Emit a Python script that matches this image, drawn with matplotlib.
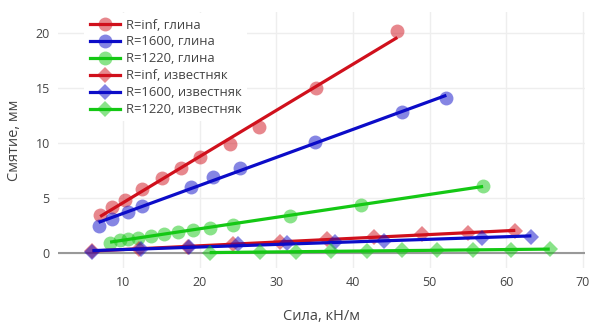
import numpy as np
import matplotlib
matplotlib.use('Agg')
import matplotlib.pyplot as plt
from matplotlib.lines import Line2D

# глина (circles)
clay_inf_x = [7.0, 8.6, 10.2, 12.5, 15.1, 17.6, 20.1, 23.9, 27.8, 35.2, 45.8]
clay_inf_y = [3.5, 4.2, 4.8, 5.8, 6.8, 7.7, 8.7, 9.9, 11.5, 15.0, 20.2]
clay_1600_x = [6.8, 8.6, 10.7, 12.5, 18.8, 21.8, 25.2, 35.1, 46.4, 52.2]
clay_1600_y = [2.5, 3.1, 3.7, 4.3, 6.0, 6.9, 7.7, 10.1, 12.8, 14.1]
clay_1220_x = [8.3, 9.6, 10.7, 11.9, 13.6, 15.3, 17.2, 19.1, 21.4, 24.4, 31.8, 41.0, 57.0]
clay_1220_y = [0.95, 1.15, 1.3, 1.4, 1.6, 1.75, 1.95, 2.1, 2.3, 2.6, 3.4, 4.4, 6.1]

# известняк (diamonds)
lime_inf_x = [6.0, 12.1, 18.5, 24.4, 30.5, 36.6, 42.8, 49.0, 55.0, 61.2]
lime_inf_y = [0.15, 0.4, 0.6, 0.85, 1.0, 1.3, 1.45, 1.7, 1.85, 2.0]
lime_1600_x = [6.0, 12.3, 18.6, 25.0, 31.4, 37.7, 44.1, 56.9, 63.3]
lime_1600_y = [0.1, 0.35, 0.55, 0.8, 0.9, 1.0, 1.1, 1.4, 1.5]
lime_1220_x = [21.3, 27.9, 32.6, 37.2, 41.8, 46.4, 51.0, 55.7, 60.7, 65.7]
lime_1220_y = [0.05, 0.1, 0.12, 0.15, 0.2, 0.25, 0.27, 0.3, 0.33, 0.35]

RED = '#d0101c'
BLUE = '#0c0cc8'
GREEN = '#14c814'

series = [
    ('R=inf, глина', clay_inf_x, clay_inf_y, RED, 'o'),
    ('R=1600, глина', clay_1600_x, clay_1600_y, BLUE, 'o'),
    ('R=1220, глина', clay_1220_x, clay_1220_y, GREEN, 'o'),
    ('R=inf, известняк', lime_inf_x, lime_inf_y, RED, 'D'),
    ('R=1600, известняк', lime_1600_x, lime_1600_y, BLUE, 'D'),
    ('R=1220, известняк', lime_1220_x, lime_1220_y, GREEN, 'D'),
]

plt.rcParams['font.family'] = ['Open Sans', 'DejaVu Sans']

fig = plt.figure(figsize=(5.9, 3.25), dpi=100)
ax = fig.add_axes([58 / 590, 1 - 268 / 325, 527 / 590, 256 / 325])

handles = []
for i, (name, xs, ys, color, marker) in enumerate(series):
    xs = np.array(xs)
    ys = np.array(ys)
    ms = 10 if marker == 'o' else 8
    ax.plot(xs, ys, linestyle='none', marker=marker, ms=ms, color=color,
            alpha=0.5, markeredgewidth=0, zorder=3 + i)
    # linear fit drawn over the points
    k, b = np.polyfit(xs, ys, 1)
    xf = np.array([xs.min(), xs.max()])
    ax.plot(xf, k * xf + b, color=color, lw=2.3, solid_capstyle='butt', zorder=3 + i)
    h_line = Line2D([], [], color=color, lw=2.3)
    h_mark = Line2D([], [], linestyle='none', marker=marker, ms=ms, color=color,
                    alpha=0.5, markeredgewidth=0)
    handles.append((h_mark, h_line))

ax.set_xlim(1.5, 70.3)
ax.set_ylim(-1.35, 21.9)
ax.set_xticks(range(10, 71, 10))
ax.set_yticks(range(0, 21, 5))

for s in ax.spines.values():
    s.set_visible(False)
ax.grid(True, color='#eeeeee', lw=1)
ax.set_axisbelow(True)
ax.axhline(0, color='#999999', lw=1.5, zorder=2)
ax.tick_params(length=0, labelsize=9, labelcolor='#444444', pad=6)

ax.set_xlabel('Сила, кН/м', fontsize=10.5, color='#444444', labelpad=14)
ax.set_ylabel('Смятие, мм', fontsize=10.5, color='#444444', labelpad=10)

leg = ax.legend(handles, [s[0] for s in series], loc='upper left',
                bbox_to_anchor=(0.05, 0.995), borderaxespad=0, frameon=True,
                fontsize=9.4, handlelength=2.35, handletextpad=0.45,
                labelspacing=0.3, borderpad=0.4, labelcolor='#444444')
leg.get_frame().set_facecolor('white')
leg.get_frame().set_edgecolor('none')
leg.get_frame().set_alpha(1)
leg.get_frame().set_boxstyle('square', pad=0)
leg.set_zorder(20)

fig.savefig('out.png', dpi=100)
